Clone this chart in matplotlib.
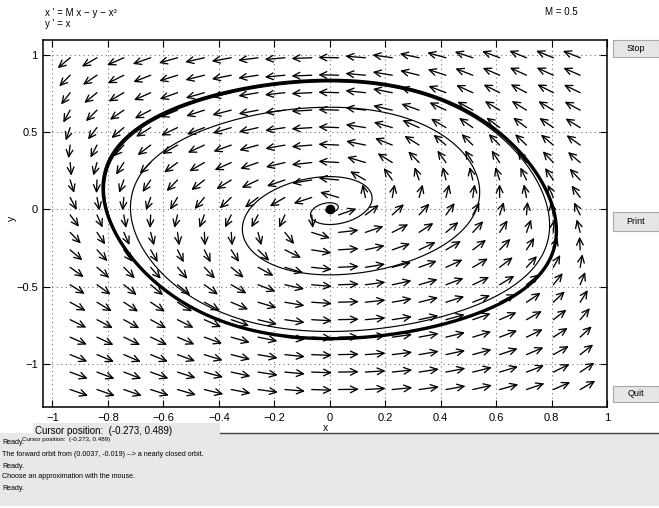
import numpy as np
import matplotlib
matplotlib.use("Agg")
import matplotlib.pyplot as plt
from matplotlib.patches import Rectangle
from matplotlib import font_manager

# ---- data ----
M = 0.5                      # parameter shown top right
x_start, y_start = 0.0037, -0.019   # initial point given in the message window
x_ticks = [-1, -0.8, -0.6, -0.4, -0.2, 0, 0.2, 0.4, 0.6, 0.8, 1]
x_tick_labels = ["\u22121", "\u22120.8", "\u22120.6", "\u22120.4", "\u22120.2", "0",
                 "0.2", "0.4", "0.6", "0.8", "1"]
y_ticks = [-1, -0.5, 0, 0.5, 1]
y_tick_labels = ["\u22121", "\u22120.5", "0", "0.5", "1"]
n_field = 20                 # arrows per row / column
messages = [
    "The forward orbit from (0.0037, -0.019) --> a nearly closed orbit.",
    "Ready.",
    "Choose an approximation with the mouse.",
    "Ready.",
]

xmin, xmax = -1.033, 1.0
ymin, ymax = -1.276, 1.093


def field(s):
    x, y = s
    return np.array([M * x - y - x ** 3, x])


def rk4(s0, dt, n):
    out = np.empty((n + 1, 2))
    s = np.array(s0, float)
    out[0] = s
    for i in range(n):
        k1 = field(s)
        k2 = field(s + dt / 2 * k1)
        k3 = field(s + dt / 2 * k2)
        k4 = field(s + dt * k3)
        s = s + dt / 6 * (k1 + 2 * k2 + 2 * k3 + k4)
        out[i + 1] = s
    return out


fwd = rk4((x_start, y_start), 0.01, 2600)
bwd = rk4((x_start, y_start), -0.01, 4000)
settle = rk4((0.8, 0.0), 0.01, 12000)
xs_ = settle[:, 0]
cross = np.where((xs_[:-1] < 0) & (xs_[1:] >= 0))[0]
cycle = settle[cross[-2]:cross[-1] + 2]

installed = {f.name for f in font_manager.fontManager.ttflist}
narrow = ["Liberation Sans Narrow"] if "Liberation Sans Narrow" in installed else []
fam = ["Liberation Sans", "DejaVu Sans"]
fam_n = narrow + fam

fig = plt.figure(figsize=(6.59, 5.08), dpi=100)
fig.patch.set_facecolor("white")
W, H = 659, 508
ax = fig.add_axes([43.3 / W, 1 - 407 / H, (607 - 43.3) / W, (407 - 40.3) / H])
ax.set_xlim(xmin, xmax)
ax.set_ylim(ymin, ymax)

# direction field
xr, yr = xmax - xmin, ymax - ymin
gx = xmin + xr / (n_field + 1) * np.arange(1, n_field + 1)
gy = ymin + yr / (n_field + 1) * np.arange(1, n_field + 1)
L = 0.036
for x0 in gx:
    for y0 in gy:
        u, v = field((x0, y0))
        nrm = np.hypot(u / xr, v / yr)
        if nrm == 0:
            continue
        dx, dy = L * u / nrm, L * v / nrm
        ax.annotate("", xy=(x0 + dx, y0 + dy), xytext=(x0, y0),
                    arrowprops=dict(arrowstyle="->,head_length=0.5,head_width=0.24",
                                    lw=0.95, color="black", shrinkA=0, shrinkB=0))

ax.plot(fwd[:, 0], fwd[:, 1], color="black", lw=0.85)
ax.plot(bwd[:, 0], bwd[:, 1], color="black", lw=0.85)
ax.plot([0], [0], "o", color="black", ms=6)
ax.plot(cycle[:, 0], cycle[:, 1], color="black", lw=2.4)

ax.set_xticks(x_ticks)
ax.set_xticklabels(x_tick_labels)
ax.set_yticks(y_ticks)
ax.set_yticklabels(y_tick_labels)
ax.tick_params(direction="in", top=True, right=True, length=5, width=0.8,
               labelsize=8, pad=4, colors="black")
for lab in ax.get_xticklabels() + ax.get_yticklabels():
    lab.set_family(fam)
ax.grid(True, linestyle=(0, (1, 3)), color="0.45", lw=0.8)
for sp in ax.spines.values():
    sp.set_linewidth(1.1)
ax.set_xlabel("x", fontsize=7.5, family=fam)
ax.xaxis.set_label_coords((325 - 43.3) / 563.7, -(423 - 407) / 366.7)
ax.set_ylabel("y", fontsize=7.5, family=fam, va="center")
ax.yaxis.set_label_coords((12 - 43.3) / 563.7, (407 - 218) / 366.7)

fig.text(45 / W, 1 - 13 / H, "x ' = M x \u2212 y \u2212 x\u00b3", fontsize=7, family=fam, va="center")
fig.text(45 / W, 1 - 24 / H, "y ' = x", fontsize=7, family=fam, va="center")
fig.text(545 / W, 1 - 12 / H, "M = 0.5", fontsize=7, family=fam, va="center")

# buttons
for label, ytop, ybot in [("Stop", 40, 57), ("Print", 212, 231), ("Quit", 386, 402)]:
    fig.patches.append(Rectangle((613 / W, 1 - ybot / H), 46 / W, (ybot - ytop) / H,
                                 transform=fig.transFigure, facecolor="#e6e6e6",
                                 edgecolor="#a8a8a8", lw=0.8))
    fig.text(636 / W, 1 - (ytop + ybot) / 2 / H, label, fontsize=6.5, family=fam_n,
             ha="center", va="center")

# status panel
fig.patches.append(Rectangle((0, 1 - 506 / H), 1, (506 - 433) / H, transform=fig.transFigure,
                             facecolor="#e8e8e8", edgecolor="none"))
fig.add_artist(plt.Line2D([220 / W, 1], [1 - 433 / H, 1 - 433 / H], transform=fig.transFigure,
                          color="#404040", lw=1))
fig.patches.append(Rectangle((33 / W, 1 - 440 / H), (220 - 33) / W, (440 - 423) / H,
                             transform=fig.transFigure, facecolor="#e8e8e8", edgecolor="none"))
cur_fs = 8.0 if narrow else 7.0
fig.text(35 / W, 1 - 431 / H, "Cursor position:  (-0.273, 0.489)", fontsize=cur_fs, family=fam_n,
         va="center")
msg_fs = 6 if narrow else 5.1
fig.text(2 / W, 1 - 443 / H, "Ready.", fontsize=msg_fs, family=fam_n, va="center")
fig.text(22 / W, 1 - 440 / H, "Cursor position:  (-0.273, 0.489)", fontsize=4.5, family=fam_n,
         va="center")
for i, m in enumerate(messages):
    fig.text(2 / W, 1 - (455 + 11 * i) / H, m, fontsize=msg_fs, family=fam_n, va="center")

fig.savefig("out.png", dpi=100)
